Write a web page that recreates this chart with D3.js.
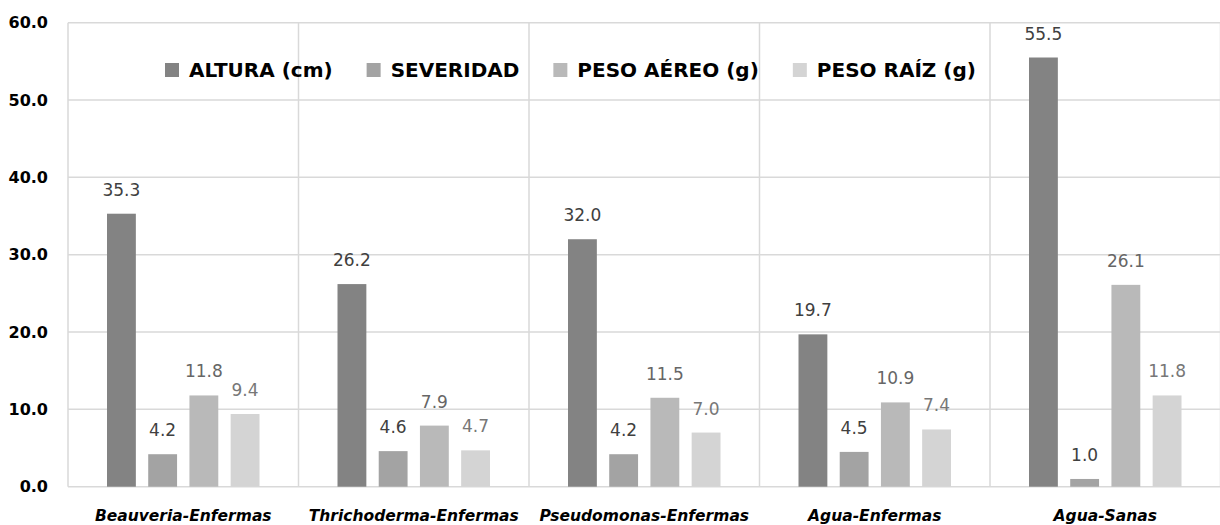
<!DOCTYPE html>
<html>
<head>
<meta charset="utf-8">
<script src="https://cdn.jsdelivr.net/npm/d3@7"></script>
<style>
  html, body { margin: 0; padding: 0; background: #ffffff; }
  svg { display: block; }
</style>
</head>
<body>
<svg id="chart" width="1220" height="525"></svg>
<script>
// Treatments on the horizontal axis
const categories = ["Beauveria-Enfermas", "Thrichoderma-Enfermas", "Pseudomonas-Enfermas", "Agua-Enfermas", "Agua-Sanas"];

// Measured variables (legend order)
const seriesNames = ["ALTURA (cm)", "SEVERIDAD", "PESO AÉREO (g)", "PESO RAÍZ (g)"];

// Values per variable, in category order
const altura    = [35.3, 26.2, 32.0, 19.7, 55.5];
const severidad = [4.2, 4.6, 4.2, 4.5, 1.0];
const pesoAereo = [11.8, 7.9, 11.5, 10.9, 26.1];
const pesoRaiz  = [9.4, 4.7, 7.0, 7.4, 11.8];

// Y axis ticks
const yTicks = [0, 10, 20, 30, 40, 50, 60];

const seriesValues = [altura, severidad, pesoAereo, pesoRaiz];
const barColors   = ["#838383", "#a3a3a3", "#b9b9b9", "#d4d4d4"];
const labelColors = ["#404040", "#404040", "#666666", "#777777"];

const svg = d3.select("#chart");
const plotLeft = 68, plotRight = 1220.5, plotTop = 22.7, plotBottom = 486.7;

const x0 = d3.scaleBand().domain(categories).range([plotLeft, plotRight]).paddingInner(0).paddingOuter(0);
const groupInset = 39;
const x1 = d3.scaleBand().domain(seriesNames)
  .range([groupInset, x0.bandwidth() - groupInset]).paddingInner(0.3).paddingOuter(0);
const y = d3.scaleLinear().domain([0, 60]).range([plotBottom, plotTop]);

const gridColor = "#d9d9d9";

// Horizontal gridlines
svg.append("g").selectAll("line").data(yTicks).join("line")
  .attr("x1", plotLeft).attr("x2", plotRight)
  .attr("y1", d => y(d)).attr("y2", d => y(d))
  .attr("stroke", gridColor).attr("stroke-width", 1.5);

// Vertical separators between treatments (including both outer edges)
const boundaries = categories.map(c => x0(c)).concat([x0(categories[categories.length - 1]) + x0.bandwidth()]);
svg.append("g").selectAll("line").data(boundaries).join("line")
  .attr("x1", d => d).attr("x2", d => d)
  .attr("y1", y(60)).attr("y2", y(0))
  .attr("stroke", gridColor).attr("stroke-width", 1.5);

// Y axis tick labels
const yAxis = d3.axisLeft(y).tickValues(yTicks).tickFormat(d3.format(".1f")).tickSize(0).tickPadding(20);
const gy = svg.append("g").attr("transform", `translate(${plotLeft},0)`).call(yAxis);
gy.select(".domain").remove();
gy.selectAll("text")
  .attr("font-family", "DejaVu Sans")
  .attr("font-weight", "bold")
  .attr("font-size", 16)
  .attr("fill", "#000");

// X axis category labels
const xAxis = d3.axisBottom(x0).tickSize(0).tickPadding(23);
const gx = svg.append("g").attr("transform", `translate(0,${plotBottom})`).call(xAxis);
gx.select(".domain").remove();
gx.selectAll("text")
  .attr("font-family", "DejaVu Sans")
  .attr("font-weight", "bold")
  .attr("font-style", "italic")
  .attr("font-size", 15.5)
  .attr("fill", "#000");

// Bars and value labels
const flat = [];
categories.forEach((c, i) => {
  seriesNames.forEach((s, j) => {
    flat.push({ cat: c, series: s, idx: j, value: seriesValues[j][i] });
  });
});

svg.append("g").selectAll("rect").data(flat).join("rect")
  .attr("x", d => x0(d.cat) + x1(d.series))
  .attr("y", d => y(d.value))
  .attr("width", x1.bandwidth())
  .attr("height", d => y(0) - y(d.value))
  .attr("fill", d => barColors[d.idx]);

svg.append("g").selectAll("text").data(flat).join("text")
  .attr("x", d => x0(d.cat) + x1(d.series) + x1.bandwidth() / 2)
  .attr("y", d => y(d.value) - 18)
  .attr("text-anchor", "middle")
  .attr("font-family", "DejaVu Sans")
  .attr("font-size", 17)
  .attr("fill", d => labelColors[d.idx])
  .text(d => d3.format(".1f")(d.value));

// Legend
const legend = svg.append("g");
let lx = 165;
seriesNames.forEach((s, j) => {
  const item = legend.append("g");
  item.append("rect")
    .attr("x", lx).attr("y", 63).attr("width", 14).attr("height", 14)
    .attr("fill", barColors[j]);
  const t = item.append("text")
    .attr("x", lx + 24).attr("y", 77)
    .attr("font-family", "DejaVu Sans")
    .attr("font-weight", "bold")
    .attr("font-size", 20)
    .attr("fill", "#000")
    .text(s);
  lx = lx + 24 + t.node().getComputedTextLength() + 34;
});
</script>
</body>
</html>
